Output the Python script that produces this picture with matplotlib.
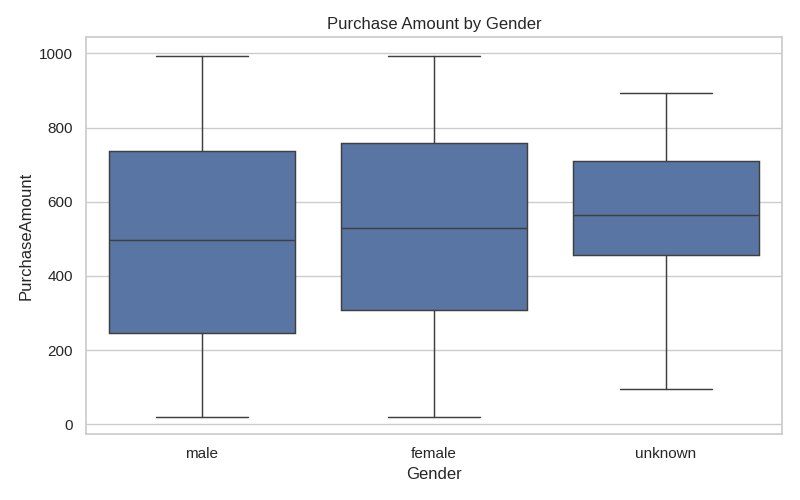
import matplotlib
matplotlib.use("Agg")
import matplotlib.pyplot as plt
import seaborn as sns

categories = ["male", "female", "unknown"]
whisker_low = [21, 21, 94]
q1 = [245, 309, 457]
median = [498, 530, 563]
q3 = [738, 759, 711]
whisker_high = [992, 992, 894]

sns.set_theme(style="whitegrid")
plt.rcParams["font.family"] = ["Liberation Sans", "DejaVu Sans"]

fig = plt.figure(figsize=(8, 5), dpi=100)
ax = fig.add_axes([0.1075, 0.132, 0.87, 0.794])

stats = []
for i, c in enumerate(categories):
    stats.append(dict(label=c, whislo=whisker_low[i], q1=q1[i], med=median[i],
                      q3=q3[i], whishi=whisker_high[i], fliers=[]))

lc = "#3f3f3f"
lw = 1.05
ax.bxp(stats, positions=range(len(categories)), widths=0.8, patch_artist=True,
       showfliers=False, capwidths=0.4,
       boxprops=dict(facecolor="#5875a4", edgecolor=lc, linewidth=lw),
       medianprops=dict(color=lc, linewidth=lw),
       whiskerprops=dict(color=lc, linewidth=lw),
       capprops=dict(color=lc, linewidth=lw))

ax.set_xlim(-0.5, 2.5)
ax.set_ylim(-26, 1044)
ax.set_yticks([0, 200, 400, 600, 800, 1000])
ax.set_xticks(range(len(categories)))
ax.set_xticklabels(categories)
ax.xaxis.grid(False)
ax.yaxis.grid(True, color="#cccccc", linewidth=1.0)
for s in ax.spines.values():
    s.set_color("#cccccc")
    s.set_linewidth(1.25)
ax.set_title("Purchase Amount by Gender", fontsize=12)
ax.set_xlabel("Gender", fontsize=12)
ax.set_ylabel("PurchaseAmount", fontsize=12)
ax.tick_params(labelsize=11, colors="#262626")

fig.savefig("out.png", dpi=100)
